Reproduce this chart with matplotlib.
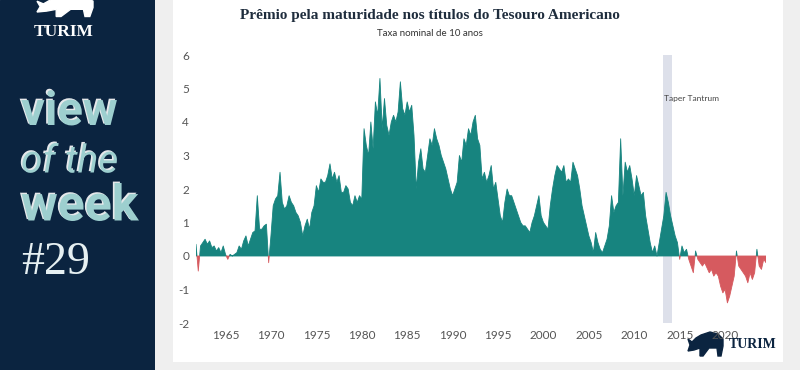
import matplotlib
matplotlib.use("Agg")
import matplotlib.pyplot as plt
import matplotlib.patheffects as pe
from matplotlib.patches import Rectangle, Polygon
import numpy as np

plt.rcParams["axes.unicode_minus"] = False

# term premium, quarterly readings (start 1961.75)
start_year = 1961.75
premium = [
    0.35,
    -0.45, 0.3, 0.4, 0.5,      # 1962
    0.35, 0.45, 0.25, 0.3,     # 1963
    0.15, 0.25, 0.1, 0.3,      # 1964
    0.05, -0.1, 0.05, 0.0,     # 1965
    0.05, 0.1, 0.3, 0.2,       # 1966
    0.45, 0.6, 0.3, 0.5,       # 1967
    0.7, 0.75, 1.8, 0.8,       # 1968
    0.8, 0.9, 0.95, -0.2,      # 1969
    0.6, 1.5, 1.7, 1.8,        # 1970
    2.5, 1.6, 1.4, 1.5,        # 1971
    1.8, 1.6, 1.5, 1.3,        # 1972
    1.2, 1.0, 0.6, 0.9,        # 1973
    1.1, 0.8, 1.3, 1.5,        # 1974
    2.1, 1.9, 2.3, 2.2,        # 1975
    2.2, 2.4, 2.75, 2.3,       # 1976
    2.5, 2.2, 2.4, 1.9,        # 1977
    1.9, 2.1, 2.0, 1.6,        # 1978
    1.5, 1.8, 1.6, 1.8,        # 1979
    1.7, 3.8, 3.3, 3.0,        # 1980
    4.0, 3.2, 4.6, 4.2,        # 1981
    5.3, 3.8, 4.7, 3.9,        # 1982
    3.6, 4.0, 4.2, 4.0,        # 1983
    4.3, 5.2, 4.4, 4.2,        # 1984
    4.6, 4.3, 4.5, 3.6,        # 1985
    2.0, 2.8, 3.2, 2.6,        # 1986
    2.5, 3.0, 3.5, 3.3,        # 1987
    3.8, 3.5, 3.3, 3.0,        # 1988
    2.8, 2.6, 2.3, 2.0,        # 1989
    1.8, 2.0, 2.2, 3.0,        # 1990
    2.8, 3.5, 3.3, 3.8,        # 1991
    3.6, 4.0, 4.2, 3.5,        # 1992
    3.3, 2.3, 2.5, 2.2,        # 1993
    2.4, 2.7, 2.0, 2.2,        # 1994
    1.7, 1.2, 1.0, 1.6,        # 1995
    2.0, 1.8, 1.8, 1.6,        # 1996
    1.4, 1.2, 1.0, 0.9,        # 1997
    0.9, 0.8, 0.7, 1.0,        # 1998
    1.2, 1.5, 1.8, 1.2,        # 1999
    1.0, 0.9, 0.8, 1.5,        # 2000
    2.0, 2.4, 2.7, 2.6,        # 2001
    2.5, 2.7, 2.2, 2.3,        # 2002
    2.2, 2.8, 2.6, 2.4,        # 2003
    2.0, 1.5, 1.2, 0.9,        # 2004
    0.6, 0.4, 0.1, 0.7,        # 2005
    0.4, 0.2, 0.1, 0.3,        # 2006
    0.5, 0.9, 1.8, 1.3,        # 2007
    1.5, 1.6, 3.5, 1.8,        # 2008
    2.8, 2.5, 2.7, 2.3,        # 2009
    1.8, 2.4, 2.1, 1.8,        # 2010
    1.9, 1.2, 0.8, 0.4,        # 2011
    0.1, 0.3, 0.0, 0.4,        # 2012
    0.8, 1.2, 1.9, 1.6,        # 2013
    1.2, 0.9, 0.6, 0.4,        # 2014
    -0.1, 0.3, 0.1, 0.2,       # 2015
    -0.1, -0.3, -0.5, 0.15,    # 2016
    -0.1, -0.2, -0.3, -0.2,    # 2017
    -0.35, -0.5, -0.4, -0.6,   # 2018
    -0.5, -0.6, -0.9, -1.1,    # 2019
    -1.0, -1.4, -1.2, -0.9,    # 2020
    -0.6, 0.15, -0.3, -0.4,    # 2021
    -0.5, -0.6, -0.8, -0.5,    # 2022
    -0.7, -0.5, 0.2, -0.3,     # 2023
    -0.4, -0.1, -0.2,          # 2024
]
taper_start, taper_end = 2013.2, 2014.2
year_ticks = [1965, 1970, 1975, 1980, 1985, 1990, 1995, 2000, 2005, 2010, 2015, 2020]
y_ticks = [-2, -1, 0, 1, 2, 3, 4, 5, 6]

years = start_year + 0.25 * np.arange(len(premium))
premium = np.array(premium)

navy = "#0b2440"
teal = "#17847f"
red = "#d65a5f"

# rough bull outline for the logos (x right, y down, ~35x25 box)
bull = np.array([(0, 20), (2, 14), (0, 8), (4, 11), (8, 7), (13, 4), (22, 1), (30, 3),
                 (35, 8), (35, 15), (33, 25), (30, 25), (29, 17), (21, 17), (15, 25),
                 (12, 25), (12, 17), (6, 19)])

fig = plt.figure(figsize=(8, 3.7), dpi=100, facecolor="#efefef")

# left navy panel
side = fig.add_axes([0, 0, 155 / 800, 1])
side.set_xlim(0, 155)
side.set_ylim(370, 0)
side.axis("off")
side.add_patch(Rectangle((0, 0), 155, 370, color=navy))
side.add_patch(Polygon(bull * [1.6, 0.9] + [37, -6], closed=True, color="white"))
side.text(64, 32, "TURIM", color="white", fontsize=12.5, fontweight="bold",
          family="Liberation Serif", ha="center", va="center")
shadow = [pe.SimplePatchShadow(offset=(-1.2, 1.0), shadow_rgbFace="white", alpha=0.9), pe.Normal()]
side.text(21, 112, "view", color="#9dcfcf", fontsize=34, fontweight="bold",
          family="Roboto", ha="left", va="center", path_effects=shadow)
side.text(21, 162, "of the", color="#9dcfcf", fontsize=28, style="italic",
          family="Roboto", ha="left", va="center", path_effects=shadow)
side.text(21, 207, "week", color="#9dcfcf", fontsize=36, fontweight="bold",
          family="Roboto", ha="left", va="center", path_effects=shadow)
side.text(21, 263, "#29", color="#e6f0f2", fontsize=33,
          family="Liberation Serif", ha="left", va="center")

# white card
card = fig.add_axes([173 / 800, 8 / 370, 610 / 800, 362 / 370])
card.set_xlim(173, 783)
card.set_ylim(362, 0)
card.set_facecolor("white")
card.set_xticks([])
card.set_yticks([])
for s in card.spines.values():
    s.set_visible(False)
card.add_patch(Polygon(bull + [688, 331], closed=True, color=navy))

fig.text(430 / 800, 1 - 16 / 370, "Prêmio pela maturidade nos títulos do Tesouro Americano",
         ha="center", va="center", fontsize=11, fontweight="bold",
         family="Liberation Serif", color="#1f2d3d")
fig.text(430 / 800, 1 - 34 / 370, "Taxa nominal de 10 anos", ha="center", va="center",
         fontsize=7, family="Lato", color="#333333")
fig.text(777 / 800, 1 - 345 / 370, "TURIM", ha="right", va="center", fontsize=10,
         fontweight="bold", family="Liberation Serif", color=navy)

ax = fig.add_axes([196 / 800, 1 - 323 / 370, 570 / 800, 268 / 370])
ax.patch.set_alpha(0)
ax.axvspan(taper_start, taper_end, color="#dde0ea", lw=0)
ax.fill_between(years, premium, 0, where=premium >= 0, interpolate=True, color=teal, lw=0.6, edgecolor=teal)
ax.fill_between(years, premium, 0, where=premium <= 0, interpolate=True, color=red, lw=0.6, edgecolor=red)
ax.text(taper_start + 0.05, 4.69, "Taper Tantrum", fontsize=6, family="Lato", color="#444444", va="center")

ax.set_xlim(years[0], years[-1])
ax.set_ylim(-2, 6)
ax.set_xticks(year_ticks)
ax.set_yticks(y_ticks)
ax.tick_params(length=0, labelsize=8.5, labelcolor="#555555", pad=5)
for lbl in ax.get_xticklabels() + ax.get_yticklabels():
    lbl.set_family("Lato")
for s in ax.spines.values():
    s.set_visible(False)

fig.savefig("out.png", dpi=100, facecolor=fig.get_facecolor())
